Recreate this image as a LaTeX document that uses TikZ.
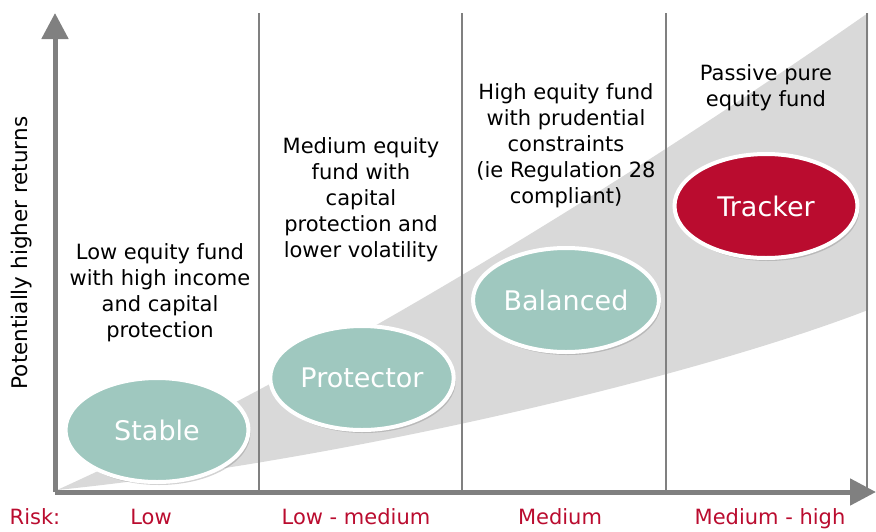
\documentclass[tikz,border=0pt]{standalone}
\usepackage{fontspec}
\setmainfont{DejaVu Sans}
\usetikzlibrary{shapes.geometric,shadows,arrows.meta}

\definecolor{riskred}{HTML}{BA0C2F}
\definecolor{fundteal}{HTML}{9FC8BF}
\definecolor{axisgray}{HTML}{808080}
\definecolor{bandgray}{HTML}{D9D9D9}

\begin{document}
\begin{tikzpicture}[x=1pt,y=-1pt,
          axis/.style={line width=5pt,draw=axisgray,-{Triangle[length=26pt,width=26pt]}},
          divider/.style={line width=2.2pt,draw=axisgray},
          fund/.style={ellipse,draw=white,line width=4pt,minimum width=183pt,minimum height=104pt,
            text=white,font=\fontsize{27}{30}\selectfont,
            drop shadow={shadow xshift=2pt,shadow yshift=-3pt,opacity=0.35}},
          blurb/.style={align=center,font=\fontsize{21}{26}\selectfont},
          risk/.style={text=riskred,anchor=base,inner sep=0pt,font=\fontsize{21}{24}\selectfont},
        ]

        \useasboundingbox (0,0) rectangle (876,531);

        % widening band of returns
        \fill[bandgray] (57,490) .. controls (300,380) and (600,200) .. (868,13)
          -- (868,310) .. controls (700,375) and (350,460) .. (57,490) -- cycle;

        % columns
        \foreach \x in {259,462,666,867}
          \draw[divider] (\x,13) -- (\x,490);

        % axes
        \coordinate (origin) at (55,492);
        \coordinate (ytip) at (55,13);
        \coordinate (xtip) at (876,492);
        \draw[axis] (origin) -- (ytip);
        \draw[axis] (origin) -- (xtip);

        \node[rotate=90,font=\fontsize{21.5}{24}\selectfont] (returns) at (22,253) {Potentially higher returns};

        % fund descriptions
        \node[blurb] (lowtext) at (160,293) {Low equity fund\\with high income\\and capital\\protection};
        \node[blurb] (medtext) at (361,200) {Medium equity\\fund with\\capital\\protection and\\lower volatility};
        \node[blurb] (hightext) at (566,146) {High equity fund\\with prudential\\constraints\\(ie Regulation 28\\compliant)};
        \node[blurb] (puretext) at (766,88) {Passive pure\\equity fund};

        % funds
        \node[fund,fill=fundteal] (stable) at (157,430) {Stable};
        \node[fund,fill=fundteal] (protector) at (362,378) {Protector};
        \node[fund,fill=fundteal] (balanced) at (566,300) {Balanced};
        \node[fund,fill=riskred] (tracker) at (766,206) {Tracker};

        % risk scale
        \node[risk] (risklabel) at (35,524) {Risk:};
        \node[risk] (risklow) at (151,524) {Low};
        \node[risk] (risklowmed) at (356,524) {Low - medium};
        \node[risk] (riskmed) at (560,524) {Medium};
        \node[risk] (riskmedhigh) at (770,524) {Medium - high};

      \end{tikzpicture}
\end{document}
